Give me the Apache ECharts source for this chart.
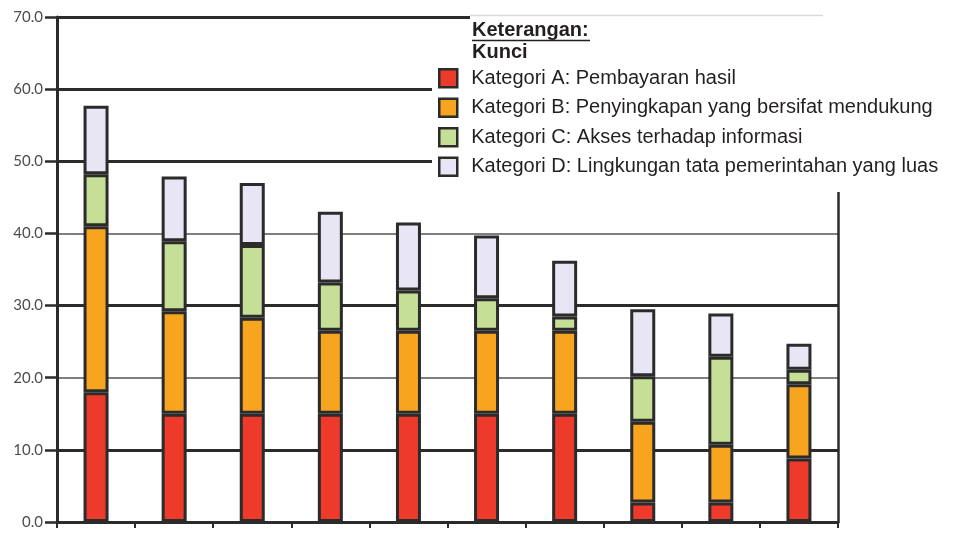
<!DOCTYPE html>
<html>
<head>
<meta charset="utf-8">
<script src="https://cdn.jsdelivr.net/npm/echarts@6/dist/echarts.min.js"></script>
<style>
html,body{margin:0;padding:0;background:#fff;}
#chart{width:976px;height:533px;}
</style>
</head>
<body>
<div id="chart"></div>
<script>
const categories = ['1','2','3','4','5','6','7','8','9','10'];
const seriesNames = [
  'Kategori A: Pembayaran hasil',
  'Kategori B: Penyingkapan yang bersifat mendukung',
  'Kategori C: Akses terhadap informasi',
  'Kategori D: Lingkungan tata pemerintahan yang luas'
];
const valuesA = [18.0, 15.0, 15.0, 15.0, 15.0, 15.0, 15.0, 2.7, 2.7, 8.8];
const valuesB = [23.0, 14.2, 13.3, 11.5, 11.5, 11.5, 11.5, 11.2, 8.0, 10.3];
const valuesC = [7.2, 9.7, 10.1, 6.7, 5.6, 4.5, 2.0, 6.3, 12.2, 2.0];
const valuesD = [9.5, 9.0, 8.6, 9.8, 9.4, 8.7, 7.7, 9.3, 6.0, 3.6];
const colors = ['#ee3a2b', '#f7a51f', '#c6df97', '#e8e6f4'];
const legendTitle = 'Keterangan:';
const legendSubtitle = 'Kunci';

const chart = echarts.init(document.getElementById('chart'));
const border = '#2b2b2b';
const allValues = [valuesA, valuesB, valuesC, valuesD];

const series = seriesNames.map((name, i) => ({
  name: name,
  type: 'bar',
  stack: 'total',
  yAxisIndex: 0,
  barWidth: 25,
  data: allValues[i],
  itemStyle: { color: colors[i], borderColor: border, borderWidth: 3 }
}));

chart.setOption({
  animation: false,
  backgroundColor: '#fff',
  grid: { left: 57, right: 138, top: 17, bottom: 11, containLabel: false },
  xAxis: {
    type: 'category',
    data: categories,
    boundaryGap: true,
    axisLine: { show: true, lineStyle: { color: border, width: 3 } },
    axisTick: { show: true, alignWithLabel: false, length: 6, lineStyle: { color: border, width: 2 } },
    axisLabel: { show: false },
    splitLine: { show: false }
  },
  yAxis: [{
    type: 'value',
    min: 0, max: 70, interval: 10,
    position: 'left',
    axisLine: { show: true, lineStyle: { color: border, width: 3 } },
    axisTick: { show: true, length: 12, lineStyle: { color: border, width: 2.5 } },
    axisLabel: {
      margin: 14,
      color: '#4d4d4d',
      fontFamily: 'Lato',
      fontSize: 15,
      formatter: v => v.toFixed(1)
    },
    splitLine: { show: true, lineStyle: { color: '#555', width: 1.5 } }
  }, {
    type: 'value',
    min: 0, max: 70, interval: 10,
    position: 'right',
    axisLine: { show: true, lineStyle: { color: border, width: 2.5 } },
    axisTick: { show: false },
    axisLabel: { show: false },
    splitLine: {
      show: true,
      lineStyle: {
        width: 3,
        color: ['transparent', border, 'transparent', border, 'transparent', border, border, border]
      }
    }
  }],
  legend: {
    orient: 'vertical',
    left: 438,
    top: 68,
    padding: 0,
    itemWidth: 18,
    itemHeight: 18,
    itemGap: 9,
    icon: 'rect',
    itemStyle: { borderColor: border, borderWidth: 2.5 },
    textStyle: {
      fontFamily: 'Liberation Sans',
      fontSize: 20,
      lineHeight: 20,
      color: '#231f20',
      padding: [0, 0, 0, 9]
    },
    data: seriesNames
  },
  graphic: [
    { type: 'rect', z: 3, shape: { x: 432, y: 60, width: 544, height: 132 }, style: { fill: '#fff' } },
    { type: 'rect', z: 3, shape: { x: 470, y: 12, width: 506, height: 50 }, style: { fill: '#fff' } },
    { type: 'line', z: 4, shape: { x1: 470, y1: 15.5, x2: 823, y2: 15.5 }, style: { stroke: '#d9d9d9', lineWidth: 1.5 } },
    { type: 'text', z: 5, left: 472, top: 20, style: { text: legendTitle, font: 'bold 20px "Liberation Sans"', fill: '#231f20' } },
    { type: 'line', z: 5, shape: { x1: 472, y1: 40.5, x2: 590, y2: 40.5 }, style: { stroke: '#231f20', lineWidth: 1.6 } },
    { type: 'text', z: 5, left: 472, top: 42, style: { text: legendSubtitle, font: 'bold 20px "Liberation Sans"', fill: '#231f20' } }
  ],
  series: series
});
</script>
</body>
</html>
